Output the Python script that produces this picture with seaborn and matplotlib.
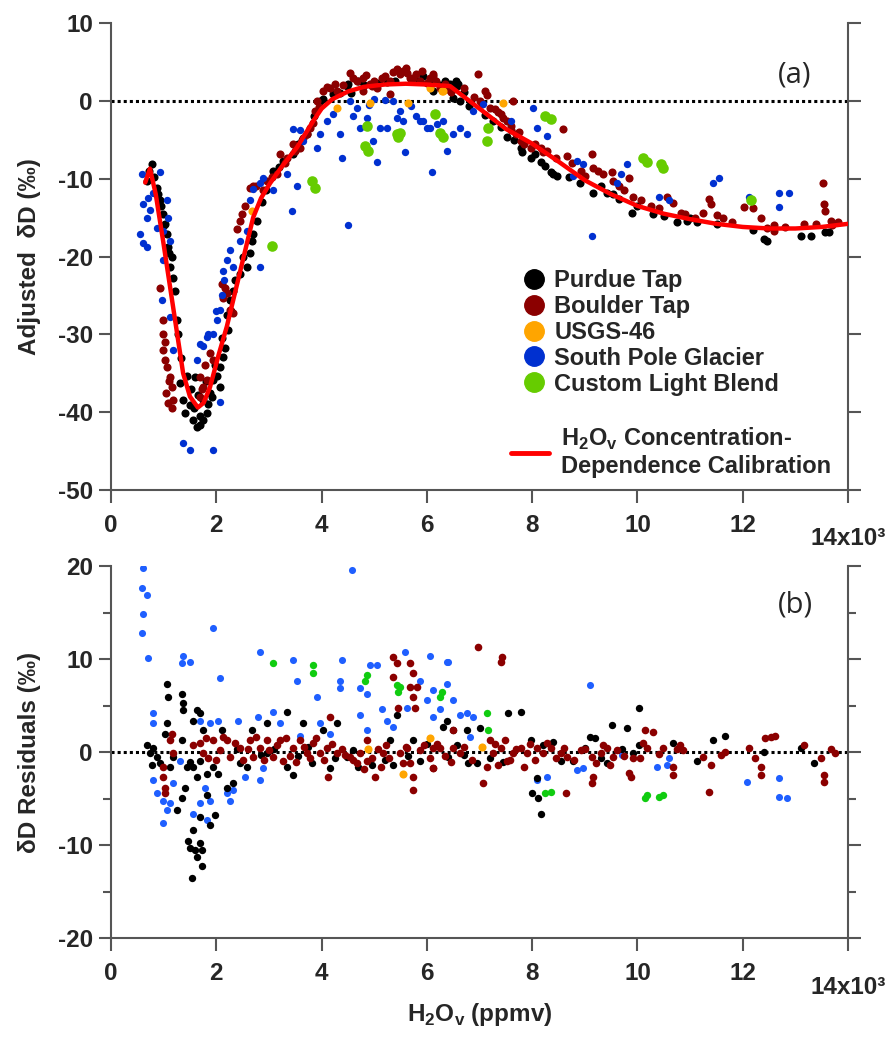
import matplotlib
matplotlib.use("Agg")
from matplotlib import pyplot as plt
from matplotlib.lines import Line2D
from matplotlib.ticker import MultipleLocator
import seaborn as sns
import pandas as pd

# ---- panel (a): adjusted dD vs H2O (x in 10^3 ppmv) ----
a_purdue_x = [0.78, 0.68, 0.87, 0.93, 0.99, 1.06, 1.08, 1.12, 1.18, 1.22, 1.25, 1.31, 1.37, 1.41, 1.50, 1.56, 1.63,
              1.69, 1.75, 1.83, 1.75, 1.88, 1.94, 2.02, 2.07, 2.13, 2.17, 2.07, 1.45, 1.60, 2.26, 2.32, 2.45, 2.58,
              2.64, 2.68, 2.70, 2.77, 3.08, 3.27, 3.46, 3.72, 3.97, 4.22, 4.49, 4.51, 4.03, 5.93, 6.12, 6.44, 6.58,
              6.50, 6.63, 7.40, 7.53, 7.78, 7.97, 8.16, 8.35, 6.60, 8.40, 8.48, 9.16, 9.43, 9.54, 9.90, 10.0, 10.76,
              10.95, 11.14, 11.52, 12.40, 12.47, 13.10, 13.29, 13.57, 13.63, 0.72, 0.82, 0.90, 1.02, 1.15, 1.28, 1.33,
              1.52, 1.66, 1.80, 1.98, 2.22, 2.28, 2.50, 2.86, 2.95, 3.20, 3.55, 3.62, 3.85, 4.35, 4.70, 5.10, 5.40,
              5.70, 6.25, 6.35, 6.80, 7.10, 7.25, 7.65, 8.70, 8.90, 10.30, 10.50, 4.55, 4.80, 5.25, 5.85, 6.05, 6.55,
              6.70, 7.80, 8.05, 8.25, 9.30, 9.65, 11.00, 12.20, 1.92, 1.85, 1.70, 1.58, 2.10, 2.20, 2.35, 0.95, 1.00,
              1.10]
a_purdue_y = [-8.1, -10.3, -11.2, -12.8, -14.5, -17.1, -18.8, -21.4, -22.7, -24.4, -28.2, -36.3, -38.5, -40.1, -39.1,
              -41.0, -41.9, -41.7, -41.0, -40.1, -38.5, -37.6, -35.9, -35.3, -34.2, -32.9, -31.8, -36.8, -35.3, -35.5,
              -25.6, -24.4, -22.2, -21.4, -19.6, -18.0, -17.1, -15.4, -9.0, -7.7, -6.8, -4.2, 0.0, 0.9, 1.9, 2.2, 0.3,
              3.2, 1.3, 2.2, 1.9, 0.4, 0.0, -3.4, -4.7, -6.0, -7.3, -7.9, -9.2, 2.2, -9.4, -9.6, -11.8, -11.8, -12.0,
              -14.4, -13.5, -15.6, -15.4, -15.6, -15.8, -17.7, -18.0, -17.3, -17.3, -16.9, -16.9, -9.0, -9.8, -12.0,
              -15.8, -20.0, -30.0, -33.0, -37.0, -37.8, -36.0, -34.0, -29.5, -27.0, -20.0, -13.0, -11.5, -8.5, -5.5,
              -5.0, -2.0, 1.0, 2.5, 2.3, 2.6, 2.8, 2.0, 2.6, -0.6, -1.8, -2.6, -5.0, -9.8, -10.5, -14.5, -14.8, 1.0,
              2.0, 2.4, 2.6, 2.7, 2.5, 1.2, -6.6, -6.8, -8.4, -11.0, -12.6, -15.0, -16.6, -38.0, -39.0, -40.5, -39.5,
              -30.5, -27.5, -23.0, -13.5, -16.0, -19.5]

a_boulder_x = [0.93, 0.99, 0.99, 0.99, 1.03, 1.06, 1.12, 1.16, 1.08, 1.16, 1.18, 1.69, 1.75, 1.82, 1.88, 1.94, 1.69,
               2.11, 2.13, 2.20, 2.26, 2.32, 2.45, 2.49, 2.64, 2.70, 2.89, 2.97, 3.16, 3.21, 3.35, 3.46, 3.59, 3.72,
               3.84, 3.88, 3.91, 4.03, 4.16, 4.30, 4.54, 4.68, 4.79, 4.92, 5.06, 5.30, 5.43, 5.49, 5.63, 5.74, 5.87,
               6.12, 4.79, 5.30, 6.12, 6.00, 6.25, 6.38, 6.98, 7.11, 7.00, 7.20, 7.40, 7.53, 7.64, 7.59, 7.78, 7.97,
               8.16, 8.29, 8.59, 8.67, 8.92, 9.14, 9.16, 9.35, 9.52, 9.54, 9.83, 9.92, 10.06, 10.25, 10.57, 10.68,
               10.82, 11.25, 11.35, 11.39, 11.52, 11.63, 12.02, 12.20, 12.34, 12.47, 12.59, 13.16, 13.52, 13.54,
               13.57, 13.67, 13.80, 5.00, 5.15, 5.55, 5.80, 6.35, 7.30, 7.70, 7.85, 4.40, 4.60, 4.85, 4.95, 5.20,
               5.35, 5.60, 5.68, 5.90, 6.05, 6.18, 6.45, 6.70, 6.90, 7.05, 7.15, 7.35, 7.45, 7.60, 7.75, 8.05, 8.20,
               8.45, 8.75, 9.00, 9.25, 9.65, 9.75, 10.40, 10.90, 11.10, 11.80, 12.60, 12.80, 13.40, 13.70, 1.02,
               1.10, 1.05, 1.78, 1.72, 2.16, 2.40, 2.55, 2.75, 3.05, 3.30, 3.50, 3.65, 3.78, 3.95, 4.10, 4.25]
a_boulder_y = [-24.0, -28.2, -29.9, -32.0, -33.3, -34.2, -35.5, -36.8, -38.8, -39.5, -38.5, -35.5, -36.8, -35.9, -32.4,
               -33.3, -38.1, -23.5, -25.3, -24.7, -26.9, -27.3, -15.4, -14.5, -11.2, -10.9, -11.5, -10.3, -9.4, -6.8,
               -7.3, -5.5, -6.0, -4.2, -2.9, -1.3, 0.0, 1.3, 1.7, 1.3, 3.6, 2.6, 2.9, 2.2, 1.7, 2.6, 4.1, 3.5, 3.6,
               2.9, 2.6, 3.2, 1.3, 0.9, 3.5, 2.3, 1.7, 1.5, 3.5, 1.3, 0.0, -0.9, -1.7, -2.6, 0.0, -3.8, -5.1, -6.0,
               -6.0, -6.4, -3.6, -7.1, -9.0, -6.8, -8.6, -9.4, -9.2, -10.3, -9.9, -12.4, -12.8, -13.5, -12.4, -13.1,
               -14.4, -14.4, -12.6, -13.2, -14.7, -15.1, -13.7, -13.8, -15.0, -16.4, -16.7, -15.8, -10.5, -13.2,
               -14.1, -15.4, -15.6, 2.6, 3.0, 3.8, 3.4, 2.2, -1.0, -4.3, -5.5, 2.0, 3.0, 3.3, 1.9, 3.2, 3.7, 4.2,
               3.0, 3.8, 3.0, 2.6, 1.2, 1.6, 0.5, -0.4, 0.8, -1.4, -2.2, -3.2, -4.0, -5.6, -6.6, -7.4, -8.0, -9.6,
               -9.0, -11.0, -11.5, -13.8, -14.6, -15.0, -15.6, -16.0, -16.2, -15.8, -16.0, -31.0, -36.0, -37.5,
               -34.0, -37.0, -24.0, -16.5, -13.5, -11.0, -9.8, -8.0, -6.5, -4.8, -3.5, -0.8, 1.8, 2.2]

a_usgs_x = [4.30, 4.92, 5.65, 2.68, 6.06, 6.31, 7.45, 6.29]
a_usgs_y = [-0.9, -0.3, -0.3, -14.1, 1.7, 1.3, -0.3, 1.3]

a_spg_x = [0.59, 0.61, 0.68, 0.55, 0.61, 0.68, 0.80, 0.93, 0.87, 0.99, 1.06, 1.08, 1.12, 0.99, 0.97, 1.12, 1.18, 1.37,
           1.50, 1.94, 2.07, 1.63, 1.69, 1.82, 1.94, 2.02, 2.07, 2.13, 2.20, 2.26, 2.32, 2.45, 2.58, 2.64, 2.70, 2.83,
           2.89, 3.08, 3.35, 3.54, 3.44, 2.83, 3.46, 3.59, 3.65, 3.91, 3.97, 4.10, 4.22, 4.35, 4.39, 4.51, 4.54, 4.68,
           4.73, 4.87, 4.98, 5.06, 5.11, 5.25, 5.36, 5.49, 5.44, 5.55, 5.59, 5.87, 6.00, 6.10, 6.38, 5.93, 6.06, 6.19,
           6.50, 6.63, 6.76, 6.88, 7.07, 7.59, 8.02, 8.10, 8.29, 8.86, 8.97, 8.78, 9.14, 9.62, 9.68, 9.81, 10.40,
           10.59, 11.44, 11.54, 12.11, 12.68, 12.68, 12.87, 5.00, 5.20, 5.70, 5.80, 4.60, 4.90, 6.30, 1.75, 1.85,
           2.00, 2.10, 2.15, 0.70, 0.75]
a_spg_y = [-9.4, -13.2, -15.0, -17.1, -18.3, -18.8, -11.9, -9.2, -16.3, -16.7, -12.8, -15.0, -18.0, -20.5, -25.6,
           -27.8, -32.0, -44.0, -44.9, -44.9, -38.7, -33.3, -31.2, -30.4, -29.9, -28.2, -26.9, -21.8, -20.5, -19.2,
           -21.4, -18.0, -16.7, -12.8, -11.3, -10.6, -9.9, -11.5, -9.4, -10.9, -14.1, -21.4, -3.6, -3.8, -5.1, -6.0,
           -4.2, -2.6, -1.7, -4.2, -7.4, -16.0, 0.0, -0.9, -3.5, -2.2, -5.1, -7.9, -3.5, -3.5, 0.0, -1.3, -2.2, -2.6,
           -6.6, -2.6, -3.5, -9.2, -6.4, -2.6, -3.5, -3.0, -4.2, -3.5, -4.2, -1.3, -0.4, -2.6, -0.9, -3.5, -4.5,
           -7.7, -8.1, -9.6, -17.3, -10.6, -9.4, -8.1, -12.4, -12.8, -10.5, -9.9, -12.4, -11.9, -13.7, -11.8, 0.2,
           0.1, -0.6, -2.0, -2.0, -0.5, -2.6, -31.5, -30.0, -27.0, -25.0, -23.0, -12.5, -14.0]

a_clb_x = [3.06, 3.82, 3.88, 4.87, 4.83, 4.89, 5.44, 5.46, 5.49, 6.16, 6.25, 6.31, 7.17, 7.14, 8.25, 8.35, 10.11,
           10.19, 10.44, 10.49, 12.15]
a_clb_y = [-18.6, -10.3, -11.2, -3.2, -5.8, -6.4, -4.2, -4.7, -4.1, -1.7, -4.1, -4.7, -3.5, -5.1, -1.9, -2.3, -7.3,
           -7.9, -8.1, -8.6, -12.7]

calib_x = [0.65, 0.74, 0.85, 0.99, 1.18, 1.37, 1.50, 1.65, 1.76, 1.88, 2.05, 2.20, 2.45, 2.70, 2.85, 3.02, 3.25, 3.53,
           3.85, 4.00, 4.20, 4.50, 4.80, 5.20, 5.60, 6.00, 6.44, 7.00, 7.50, 8.00, 8.50, 9.00, 9.50, 10.00, 10.50,
           11.00, 11.50, 12.00, 12.50, 13.00, 13.50, 14.00]
calib_y = [-10.5, -8.7, -12.0, -18.0, -26.5, -35.0, -38.0, -39.4, -38.8, -36.8, -32.5, -29.0, -22.0, -15.0, -12.5,
           -10.6, -8.4, -6.0, -2.5, -1.0, 0.2, 1.2, 1.8, 2.1, 2.2, 2.1, 1.9, -1.0, -3.6, -5.5, -7.8, -10.2, -12.0,
           -13.5, -14.5, -15.2, -15.8, -16.2, -16.4, -16.4, -16.2, -15.8]

# ---- panel (b): residuals ----
b_purdue_x = [0.68, 0.74, 0.80, 0.87, 0.78, 0.93, 1.03, 1.06, 1.06, 1.08, 1.12, 1.18, 1.25, 1.35, 1.37, 1.37, 1.35,
              1.35, 1.41, 1.45, 1.46, 1.50, 1.54, 1.56, 1.60, 1.63, 1.69, 1.73, 1.73, 1.56, 1.63, 1.69, 1.75, 1.56,
              1.63, 1.69, 1.69, 1.82, 1.88, 1.98, 1.82, 1.94, 2.04, 2.11, 2.20, 2.32, 2.45, 2.58, 2.68, 2.97, 2.97,
              3.35, 3.35, 3.46, 3.65, 3.82, 4.03, 4.16, 4.30, 4.49, 4.70, 5.36, 5.44, 5.30, 5.74, 5.87, 6.31, 6.38,
              6.50, 6.58, 6.41, 6.79, 6.96, 6.76, 7.00, 7.55, 7.78, 7.97, 8.10, 8.00, 8.12, 8.16, 8.40, 8.78, 9.10,
              9.20, 9.52, 9.81, 10.02, 9.43, 9.92, 10.02, 10.68, 11.14, 11.44, 11.67, 12.40, 13.10, 13.35, 1.50,
              2.40, 2.85, 3.10, 3.55, 3.75, 4.25, 4.60, 4.95, 5.20, 5.65, 6.00, 6.70, 7.20, 7.45, 8.20, 8.55, 9.00,
              9.30, 9.70]
b_purdue_y = [0.8, -0.1, 0.5, -0.5, -1.4, -1.2, 2.0, 3.2, 7.4, 5.9, -1.6, -0.5, -6.2, 6.3, 5.3, 4.5, 1.3, -4.9, -3.8,
              -1.6, -9.5, -10.3, -13.5, -8.4, -10.5, -11.3, -9.8, -10.5, -12.2, 3.4, 4.5, 4.2, 2.4, -1.6, -2.7, -0.9,
              -7.0, -4.6, -7.8, -6.8, -2.3, -1.6, -2.3, 2.4, -3.8, -3.3, -1.2, -1.6, 2.4, 3.2, -0.1, 4.3, -1.6, -2.5,
              3.1, -1.2, 2.4, -1.7, 3.1, -0.5, -1.6, -1.4, 4.0, 1.3, 1.3, -0.9, 2.7, 3.4, 2.4, 0.8, -0.5, -1.2, -1.2,
              2.4, 2.6, 4.2, 4.3, 1.3, -2.8, -4.4, -4.9, -6.6, 1.1, -0.9, 1.6, 1.5, 2.9, 2.6, 4.8, -1.2, -0.1, 0.8,
              1.0, -0.9, 1.3, 1.8, 0.0, 0.5, -1.2, -1.0, 0.3, -0.3, 0.3, -0.4, 0.6, -0.6, 0.2, -1.4, -0.8, -0.4, 0.9,
              -0.3, -0.6, -1.0, 0.8, -0.9, 0.5, -0.6, 0.3]

b_boulder_x = [0.99, 0.99, 1.03, 1.03, 1.12, 1.16, 1.18, 1.69, 1.75, 1.94, 2.07, 2.20, 2.26, 2.45, 2.64, 2.70, 2.83,
               2.97, 3.08, 3.21, 3.27, 3.46, 3.59, 3.72, 3.84, 3.97, 4.10, 4.16, 4.13, 4.30, 4.54, 4.73, 4.87, 4.87,
               5.02, 5.17, 5.36, 5.44, 5.36, 5.46, 5.68, 5.74, 5.68, 5.81, 5.74, 5.78, 5.68, 5.74, 5.74, 5.49, 5.63,
               6.12, 6.25, 5.87, 6.12, 6.50, 6.63, 6.50, 6.12, 6.98, 7.43, 7.40, 7.07, 7.14, 7.20, 7.26, 7.40, 7.53,
               7.64, 7.78, 7.91, 8.10, 8.21, 8.35, 8.54, 8.67, 8.65, 8.92, 9.14, 9.16, 9.14, 9.30, 9.43, 9.54, 9.83,
               9.87, 9.92, 10.15, 10.30, 10.19, 10.49, 10.68, 10.68, 10.76, 10.87, 11.24, 11.35, 11.39, 11.58, 11.67,
               12.11, 12.24, 12.34, 12.34, 12.43, 12.53, 12.62, 13.16, 13.48, 13.54, 13.54, 13.67, 13.76, 1.55, 1.80,
               1.85, 2.00, 2.12, 2.35, 2.50, 2.60, 2.75, 2.90, 3.00, 3.15, 3.32, 3.40, 3.52, 3.66, 3.78, 3.90, 4.05,
               4.20, 4.38, 4.45, 4.60, 4.68, 4.80, 4.95, 5.08, 5.12, 5.22, 5.28, 5.55, 5.60, 5.95, 6.05, 6.20, 6.35,
               6.45, 6.70, 6.85, 7.30, 7.35, 7.48, 7.58, 7.70, 7.85, 7.95, 8.05, 8.28, 8.45, 8.60, 8.80, 9.00, 9.22,
               9.35, 9.48, 9.62, 9.75, 10.05, 10.10, 10.40, 10.80]
b_boulder_y = [-1.6, -2.7, -3.8, -4.4, 1.3, 2.0, -0.1, 1.0, -0.1, 1.3, 0.2, 1.3, -0.5, 0.5, 1.3, -0.5, 0.5, 1.3, -0.5,
               1.3, -0.9, 0.5, 1.3, -0.1, 1.0, -0.1, 0.5, 3.8, -2.7, -0.1, -0.5, -0.1, 1.3, -0.9, -2.7, -0.1, 10.2,
               9.6, 8.1, 4.8, 9.6, 8.5, 7.0, 7.0, 5.9, 4.8, -1.2, -2.7, -4.1, -0.1, 0.5, -1.7, 0.5, 0.2, 0.5, 0.5,
               -0.1, 2.4, -1.7, 11.3, 10.2, 9.7, -3.3, -1.6, 1.3, -0.1, 0.5, -0.9, -0.1, 0.5, -0.1, 0.5, -0.1, 0.5,
               -0.1, -0.5, -4.4, 0.2, -0.5, -2.7, -3.3, -0.1, 0.5, -0.5, -2.2, -2.7, -0.6, 2.4, 2.2, 0.5, 0.5, -1.6,
               -2.5, 0.4, 0.2, -0.5, -4.3, -1.4, -0.3, 0.0, 0.5, -0.6, -1.6, -2.5, 1.5, 1.6, 1.7, 0.8, -0.6, -2.5,
               -3.2, 0.4, -0.1, 0.8, 1.5, -0.6, -0.8, 1.6, 1.0, -0.8, 0.4, 1.6, -0.8, 0.2, 0.8, 1.5, -0.4, -1.0, 0.6,
               -0.6, 1.5, -0.8, 0.9, 0.4, -0.3, -0.8, -1.2, -1.8, -0.6, 0.4, -1.6, 0.8, -0.6, -1.2, 0.6, 0.8, -0.6,
               0.9, -0.4, -1.0, 0.6, -0.8, 0.9, -1.4, 1.3, -0.8, 0.4, -1.6, 0.9, -0.8, 1.0, -0.6, 0.5, -0.8, 0.3,
               -1.2, 0.8, -1.4, 0.2, -0.4, -0.6, 1.0, -0.2, 0.8]

b_usgs_x = [4.89, 5.55, 6.06, 7.05]
b_usgs_y = [0.4, -2.3, 1.5, 0.6]

b_spg_x = [0.61, 0.59, 0.68, 0.61, 0.59, 0.70, 1.94, 1.37, 1.35, 1.50, 2.07, 2.83, 3.08, 3.46, 3.54, 3.91, 4.35, 4.39,
           4.35, 4.58, 4.73, 4.87, 4.92, 5.06, 4.73, 4.87, 5.15, 5.25, 5.36, 5.59, 5.63, 5.87, 6.06, 6.00, 6.12, 6.38,
           6.38, 0.80, 0.80, 0.80, 0.87, 0.99, 1.06, 0.99, 1.12, 1.18, 1.31, 1.69, 1.88, 2.04, 1.56, 1.69, 1.79,
           1.82, 1.88, 2.20, 2.26, 2.32, 2.55, 2.41, 2.80, 2.83, 2.89, 3.21, 3.59, 3.97, 4.16, 6.41, 6.12, 6.50,
           6.25, 6.63, 6.76, 6.88, 6.82, 9.10, 8.10, 8.29, 8.86, 8.97, 9.71, 10.38, 10.57, 10.59, 12.09, 12.68,
           12.68, 12.85]
b_spg_y = [19.8, 17.7, 16.9, 14.9, 12.8, 10.1, 13.4, 10.4, 9.6, 9.7, 8.0, 10.8, 4.3, 9.9, 7.7, 5.9, 7.7, 9.9, 6.9,
           19.6, 6.9, 6.3, 9.4, 9.4, 4.0, 2.4, 4.7, 3.4, 2.7, 10.8, 4.8, 7.7, 10.4, 5.6, 3.8, 9.7, 7.4, 4.2, 3.1,
           -3.0, -4.4, -5.2, -6.2, -7.6, -5.5, -3.3, -0.9, 3.4, 3.1, 3.4, -6.6, -5.5, -3.8, -7.3, -5.2, -4.4, -5.2,
           -4.1, -2.7, 3.4, 3.8, -3.0, -1.7, 3.1, 1.8, 3.2, 2.0, 9.7, 6.7, 5.6, 4.7, 4.0, 4.2, 3.8, 1.6, 7.2, -3.0,
           -2.7, -1.9, -1.7, -0.3, -1.6, -1.4, -0.6, -3.2, -2.8, -4.8, -4.9]

b_clb_x = [3.08, 3.84, 3.84, 4.83, 4.87, 5.44, 5.46, 5.49, 6.25, 6.29, 7.14, 7.17, 8.25, 8.35, 10.15, 10.19, 10.40,
           10.49]
b_clb_y = [9.6, 9.4, 8.5, 7.7, 8.3, 7.2, 6.5, 7.0, 5.9, 6.5, 4.2, 2.4, -4.4, -4.3, -4.9, -4.6, -4.8, -4.6]

labels = ["Purdue Tap", "Boulder Tap", "USGS-46", "South Pole Glacier", "Custom Light Blend"]
colors_a = ["#000000", "#8B0000", "#FFA500", "#0030D0", "#66CC00"]
colors_b = ["#000000", "#8B0000", "#FFA500", "#1F5FFF", "#10CC10"]

sns.set_style("ticks")
plt.rcParams['font.family'] = ['Liberation Sans', 'DejaVu Sans']
plt.rcParams['font.weight'] = 'bold'
plt.rcParams['axes.unicode_minus'] = False
plt.rcParams['mathtext.fontset'] = 'custom'
plt.rcParams['mathtext.rm'] = 'Liberation Sans:bold'
plt.rcParams['mathtext.bf'] = 'Liberation Sans:bold'

FS = 17.5

fig = plt.figure(figsize=(8.88, 10.47), dpi=100)
ax1 = fig.add_axes([0.125, 0.532, 0.830, 0.446])
ax2 = fig.add_axes([0.125, 0.104, 0.830, 0.355])


def scatterSeries(ax, xs, ys, color, s):
    d = pd.DataFrame({"x": xs, "y": ys})
    sns.scatterplot(x="x", y="y", data=d, color=color, s=s, linewidth=0, legend=False, ax=ax, zorder=3)


def styleAxis(ax, ylim, ystep, minor=None):
    ax.set_xlim(0, 14)
    ax.set_ylim(*ylim)
    for sp in ["left", "bottom", "right"]:
        ax.spines[sp].set_color("#555555")
        ax.spines[sp].set_linewidth(1.5)
    ax.spines["top"].set_visible(False)
    ax.set_xticks(range(0, 15, 2))
    ax.set_xticklabels(["0", "2", "4", "6", "8", "10", "12", ""])
    ax.yaxis.set_major_locator(MultipleLocator(ystep))
    if minor:
        ax.yaxis.set_minor_locator(MultipleLocator(minor))
    ax.tick_params(axis="both", which="major", direction="out", length=9, width=1.5, color="#555555",
                   labelsize=FS)
    ax.tick_params(axis="x", which="major", pad=8)
    ax.tick_params(axis="y", which="major", pad=4)
    ax.tick_params(axis="y", which="both", right=True, labelright=False)
    ax.tick_params(axis="y", which="minor", direction="out", length=6, width=1.5, color="#555555")
    ax.axhline(0, color="black", ls=(0, (1, 1)), lw=2.2, zorder=2)
    ax.annotate("14x10³", xy=(14, 0), xycoords=("data", "axes fraction"), xytext=(0, -27),
                textcoords="offset points", ha="center", va="top", fontsize=FS, fontweight="bold")
    ax.set_xlabel("")


# panel (a)
scatterSeries(ax1, a_purdue_x, a_purdue_y, colors_a[0], 34)
scatterSeries(ax1, a_boulder_x, a_boulder_y, colors_a[1], 34)
scatterSeries(ax1, a_spg_x, a_spg_y, colors_a[3], 28)
scatterSeries(ax1, a_usgs_x, a_usgs_y, colors_a[2], 34)
scatterSeries(ax1, a_clb_x, a_clb_y, colors_a[4], 58)
sns.lineplot(x=calib_x, y=calib_y, sort=False, color="#FF0000", lw=3.2, ax=ax1, zorder=4)
styleAxis(ax1, (-50, 10), 10)
ax1.set_ylabel("Adjusted  δD (‰)", fontsize=FS, fontweight="bold", labelpad=12)
ax1.text(0.928, 0.889, "(a)", transform=ax1.transAxes, ha="center", va="center", fontsize=21,
         fontweight="normal", family=["Open Sans", "DejaVu Sans"])

handles = [Line2D([], [], marker="o", ls="", color=c, markersize=14) for c in colors_a]
leg1 = ax1.legend(handles, labels, loc="upper left", bbox_to_anchor=(0.542, 0.493), frameon=False,
                  fontsize=17, labelspacing=0.12, handletextpad=0.25, borderaxespad=0, handlelength=1.2)
ax1.add_artist(leg1)
calib_handle = Line2D([], [], color="#FF0000", lw=3.5)
ax1.legend([calib_handle], ["H$_\\mathrm{2}$O$_\\mathrm{v}$ Concentration-\nDependence Calibration"],
           loc="upper left", bbox_to_anchor=(0.53, 0.158), frameon=False, fontsize=17,
           handlelength=1.6, handletextpad=0.5, borderaxespad=0)

# panel (b)
scatterSeries(ax2, b_spg_x, b_spg_y, colors_b[3], 26)
scatterSeries(ax2, b_purdue_x, b_purdue_y, colors_b[0], 28)
scatterSeries(ax2, b_boulder_x, b_boulder_y, colors_b[1], 30)
scatterSeries(ax2, b_clb_x, b_clb_y, colors_b[4], 28)
scatterSeries(ax2, b_usgs_x, b_usgs_y, colors_b[2], 34)
styleAxis(ax2, (-20, 20), 10, minor=5)
ax2.set_ylabel("δD Residuals (‰)", fontsize=FS, fontweight="bold", labelpad=12)
ax2.set_xlabel("H$_\\mathrm{2}$O$_\\mathrm{v}$ (ppmv)", fontsize=FS, fontweight="bold", labelpad=12)
ax2.text(0.928, 0.895, "(b)", transform=ax2.transAxes, ha="center", va="center", fontsize=21,
         fontweight="normal", family=["Open Sans", "DejaVu Sans"])

fig.savefig("out.png", dpi=100)
